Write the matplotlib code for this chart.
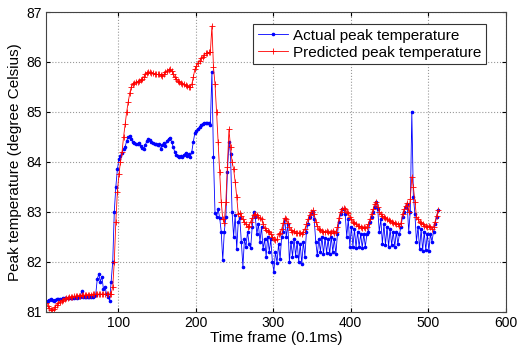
import matplotlib
matplotlib.use("Agg")
import matplotlib.pyplot as plt
import numpy as np

plt.rcParams['font.family'] = ['Liberation Sans', 'DejaVu Sans']

# Time frames (0.1 ms), every second frame
frames = np.arange(7, 515, 2)

# Actual peak temperature (degree Celsius)
actual = [
    # 7 .. 89
    81.20, 81.22, 81.24, 81.25, 81.24, 81.22, 81.24, 81.25, 81.26, 81.26,
    81.26, 81.27, 81.27, 81.27, 81.27, 81.28, 81.28, 81.28, 81.28, 81.29,
    81.28, 81.29, 81.30, 81.41, 81.30, 81.29, 81.29, 81.29, 81.30, 81.30,
    81.30, 81.31, 81.33, 81.65, 81.75, 81.60, 81.70, 81.45, 81.50, 81.35,
    81.30, 81.22,
    # 91 .. 221
    81.60, 82.00, 83.00, 83.50, 83.85, 84.05, 84.12, 84.18, 84.25, 84.30,
    84.42, 84.50, 84.52, 84.45, 84.40, 84.38, 84.36, 84.35, 84.38, 84.32,
    84.28, 84.25, 84.33, 84.42, 84.46, 84.44, 84.40, 84.38, 84.36, 84.35,
    84.33, 84.35, 84.25, 84.34, 84.38, 84.32, 84.42, 84.46, 84.48, 84.40,
    84.30, 84.20, 84.14, 84.12, 84.10, 84.12, 84.10, 84.14, 84.18, 84.12,
    84.15, 84.10, 84.20, 84.40, 84.58, 84.62, 84.66, 84.70, 84.73, 84.75,
    84.77, 84.78, 84.78, 84.77, 84.74, 85.80,
    # 223 .. 313
    84.10, 82.97, 82.90, 83.05, 82.88, 82.60, 82.03, 82.60, 82.90, 83.80,
    84.40, 84.15, 83.00, 82.50, 82.93, 82.25, 82.80, 82.87, 82.40, 81.90,
    82.45, 82.30, 82.60, 82.35, 82.27, 82.70, 83.00, 82.90, 82.55, 82.75,
    82.40, 82.70, 82.25, 82.45, 82.10, 82.50, 82.20, 82.45, 82.00, 81.80,
    82.20, 81.97, 82.35, 82.05, 82.50, 82.60,
    # 315 .. 413
    82.85, 82.50, 82.75, 82.00, 82.40, 82.10, 82.45, 82.12, 82.40, 82.00,
    82.35, 81.95, 82.40, 82.10, 82.60, 82.75, 82.90, 82.98, 83.00, 82.85,
    82.40, 82.13, 82.45, 82.20, 82.50, 82.15, 82.48, 82.18, 82.45, 82.15,
    82.50, 82.20, 82.45, 82.15, 82.55, 82.80, 82.95, 83.05, 83.05, 82.95,
    82.50, 82.85, 82.30, 82.70, 82.30, 82.65, 82.28, 82.60, 82.30, 82.55,
    # 415 .. 513
    82.28, 82.55, 82.30, 82.55, 82.60, 82.80, 82.90, 83.00, 83.10, 83.20,
    83.05, 82.60, 82.85, 82.35, 82.75, 82.33, 82.70, 82.30, 82.65, 82.33,
    82.60, 82.30, 82.60, 82.35, 82.55, 82.70, 82.90, 83.00, 83.10, 83.15,
    82.60, 83.00, 85.00, 83.30, 82.95, 82.40, 82.70, 82.25, 82.65, 82.22,
    82.60, 82.23, 82.55, 82.22, 82.55, 82.40, 82.60, 82.75, 82.90, 83.03,
]

# Predicted peak temperature (degree Celsius)
predicted = [
    # 7 .. 89
    81.18, 81.12, 81.07, 81.04, 81.03, 81.06, 81.10, 81.14, 81.17, 81.20,
    81.22, 81.24, 81.25, 81.27, 81.28, 81.29, 81.30, 81.30, 81.31, 81.31,
    81.32, 81.32, 81.32, 81.33, 81.33, 81.33, 81.34, 81.34, 81.34, 81.34,
    81.35, 81.35, 81.35, 81.35, 81.35, 81.35, 81.35, 81.35, 81.35, 81.35,
    81.35, 81.35,
    # 91 .. 221
    81.36, 81.50, 82.00, 82.80, 83.40, 83.75, 84.00, 84.20, 84.50, 84.75,
    85.00, 85.20, 85.38, 85.50, 85.55, 85.58, 85.60, 85.60, 85.62, 85.63,
    85.66, 85.70, 85.75, 85.78, 85.80, 85.80, 85.78, 85.77, 85.76, 85.75,
    85.75, 85.76, 85.74, 85.72, 85.75, 85.80, 85.82, 85.84, 85.85, 85.82,
    85.76, 85.70, 85.66, 85.62, 85.60, 85.58, 85.56, 85.55, 85.53, 85.52,
    85.50, 85.50, 85.55, 85.70, 85.85, 85.92, 85.97, 86.02, 86.07, 86.10,
    86.14, 86.17, 86.18, 86.19, 86.20, 86.72,
    # 223 .. 313
    85.90, 85.55, 85.00, 84.40, 83.80, 83.20, 82.85, 82.78, 83.20, 83.90,
    84.65, 84.30, 84.00, 83.85, 83.60, 83.30, 82.95, 82.97, 82.92, 82.85,
    82.80, 82.75, 82.70, 82.72, 82.80, 82.88, 82.93, 82.95, 82.93, 82.90,
    82.88, 82.85, 82.75, 82.68, 82.63, 82.62, 82.60, 82.55, 82.50, 82.45,
    82.43, 82.45, 82.55, 82.57, 82.65, 82.78,
    # 315 .. 413
    82.87, 82.85, 82.78, 82.70, 82.63, 82.60, 82.62, 82.58, 82.57, 82.58,
    82.57, 82.55, 82.60, 82.65, 82.75, 82.85, 82.93, 83.00, 83.03, 82.95,
    82.80, 82.72, 82.65, 82.63, 82.62, 82.60, 82.60, 82.62, 82.60, 82.58,
    82.60, 82.62, 82.58, 82.60, 82.70, 82.88, 83.00, 83.05, 83.07, 83.05,
    83.00, 82.97, 82.90, 82.85, 82.80, 82.78, 82.75, 82.72, 82.72, 82.70,
    # 415 .. 513
    82.68, 82.70, 82.68, 82.70, 82.75, 82.85, 82.95, 83.05, 83.15, 83.20,
    83.10, 83.00, 82.95, 82.92, 82.90, 82.88, 82.85, 82.83, 82.82, 82.80,
    82.78, 82.78, 82.75, 82.75, 82.72, 82.78, 82.95, 83.05, 83.12, 83.18,
    83.00, 83.25, 83.70, 83.50, 83.20, 82.90, 82.85, 82.80, 82.78, 82.75,
    82.72, 82.72, 82.70, 82.72, 82.70, 82.65, 82.70, 82.80, 82.92, 83.03,
]

fig = plt.figure(figsize=(5.18, 3.54), dpi=100)
ax = fig.add_axes([0.089, 0.12, 0.887, 0.846])

ax.plot(frames, actual, color='#0000ff', lw=0.6, marker='.', ms=3.2,
        label='Actual peak temperature')
ax.plot(frames, predicted, color='#ff0000', lw=0.6, marker='+', ms=4, mew=0.6,
        label='Predicted peak temperature')

ax.set_xlim(7, 600)
ax.set_ylim(81, 87)
ax.set_xticks([100, 200, 300, 400, 500, 600])
ax.set_yticks([81, 82, 83, 84, 85, 86, 87])
ax.tick_params(direction='in', labelsize=10, top=True, right=True, length=3, pad=3)
ax.grid(True, linestyle=':', color='#999999', lw=0.8)
ax.set_xlabel('Time frame (0.1ms)', fontsize=11, labelpad=1)
ax.set_ylabel('Peak temperature (degree Celsius)', fontsize=11, labelpad=3)
for s in ax.spines.values():
    s.set_linewidth(0.8)
    s.set_color('#444444')

leg = ax.legend(loc='upper right', bbox_to_anchor=(0.957, 0.96), borderaxespad=0,
                fontsize=11, handlelength=2.0, handletextpad=0.3,
                labelspacing=0.2, borderpad=0.3, fancybox=False, framealpha=1)
leg.get_frame().set_edgecolor('#333333')
leg.get_frame().set_linewidth(0.8)

fig.savefig('out.png', dpi=100)
